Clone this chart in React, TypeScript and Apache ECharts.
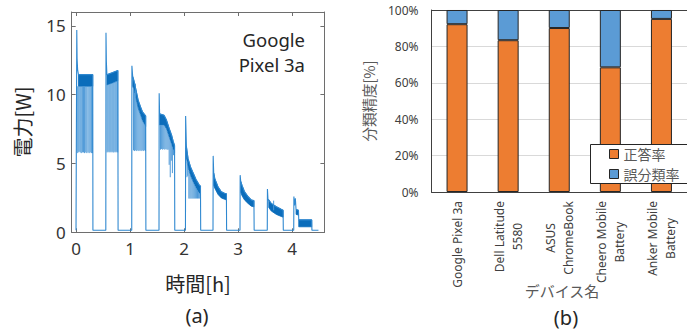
import React, { useEffect, useRef } from 'react';
import * as echarts from 'echarts';

// ---------- (a) power trace ----------
const TIME_TICKS = [0, 1, 2, 3, 4];
const POWER_TICKS = [0, 5, 10, 15];

// outline of the measured power [h, W]
const POWER_TRACE: number[][] = [
  [0, 0.15], [0.012, 0.15], [0.014, 14.7], [0.02, 12.6], [0.03, 11.8], [0.045, 11.45], [0.31, 11.45], [0.313, 0.15],
  [0.552, 0.15], [0.555, 14.5], [0.562, 12.4], [0.572, 11.45], [0.68, 11.6], [0.775, 11.75], [0.779, 0.15],
  [1.032, 0.15], [1.035, 12.1], [1.05, 11.3], [1.07, 11.05], [1.11, 10.35], [1.15, 9.6], [1.195, 9.1], [1.23, 8.75], [1.29, 8.45], [1.294, 0.15],
  [1.537, 0.15], [1.54, 10.1], [1.548, 8.6], [1.63, 8.5], [1.675, 8.15], [1.725, 7.55], [1.77, 7.05], [1.8, 6.6], [1.825, 6.3], [1.829, 0.15],
  [2.027, 0.15], [2.03, 8.45], [2.045, 6.2], [2.075, 5.35], [2.12, 4.75], [2.17, 4.3], [2.22, 3.85], [2.28, 3.45], [2.305, 3.35], [2.309, 0.15],
  [2.537, 0.15], [2.54, 5.55], [2.55, 4.3], [2.57, 3.9], [2.63, 3.3], [2.69, 2.95], [2.75, 2.83], [2.785, 2.8], [2.789, 0.15],
  [3.037, 0.15], [3.04, 4.15], [3.05, 3.7], [3.075, 3.4], [3.12, 2.95], [3.185, 2.6], [3.245, 2.35], [3.295, 2.3], [3.299, 0.15],
  [3.542, 0.15], [3.545, 3.15], [3.555, 2.4], [3.57, 2.35], [3.615, 2.1], [3.71, 1.86], [3.8, 1.67], [3.835, 1.6], [3.839, 0.15],
  [4.032, 0.15], [4.035, 2.6], [4.045, 1.95], [4.062, 2.47], [4.075, 1.65], [4.12, 1.6], [4.125, 0.9], [4.365, 0.9], [4.369, 0.15],
  [4.49, 0.15],
];

// dense oscillation bands per charging burst: [h, upper W, lower W]
const POWER_BANDS: number[][][] = [
  [[0.045, 11.45, 10.6], [0.31, 11.45, 10.6]],
  [[0.572, 11.45, 10.7], [0.68, 11.6, 10.85], [0.775, 11.75, 11.0]],
  [[1.05, 11.3, 10.6], [1.07, 11.05, 10.4], [1.11, 10.35, 9.7], [1.15, 9.6, 9.0], [1.195, 9.1, 8.5], [1.23, 8.75, 8.1], [1.29, 8.45, 7.7]],
  [[1.548, 8.6, 7.8], [1.63, 8.5, 7.8], [1.675, 8.15, 7.5], [1.725, 7.55, 6.9], [1.77, 7.05, 6.4], [1.8, 6.6, 6.0], [1.825, 6.3, 5.8]],
  [[2.045, 6.2, 5.4], [2.075, 5.35, 4.7], [2.12, 4.75, 4.1], [2.17, 4.3, 3.65], [2.22, 3.85, 3.25], [2.28, 3.45, 2.85], [2.305, 3.35, 2.8]],
  [[2.55, 4.3, 3.4], [2.57, 3.9, 3.2], [2.63, 3.3, 2.75], [2.69, 2.95, 2.5], [2.75, 2.83, 2.4], [2.785, 2.8, 2.35]],
  [[3.05, 3.7, 2.9], [3.075, 3.4, 2.65], [3.12, 2.95, 2.35], [3.185, 2.6, 2.1], [3.245, 2.35, 1.9], [3.295, 2.3, 1.85]],
  [[3.57, 2.35, 1.8], [3.615, 2.1, 1.55], [3.71, 1.86, 1.3], [3.8, 1.67, 1.15], [3.835, 1.6, 1.1]],
  [[4.075, 1.65, 1.3], [4.12, 1.6, 1.25]],
  [[4.125, 0.9, 0.4], [4.365, 0.9, 0.4]],
];

// short excursions of the trace: [h, from W, to W]
const POWER_SPIKES: number[][] = [
  [0.022, 10.6, 5.75], [0.04, 10.6, 5.8], [0.058, 10.6, 5.85], [0.078, 10.6, 5.8], [0.097, 10.6, 5.75],
  [0.118, 10.6, 5.8], [0.138, 10.6, 5.8], [0.158, 10.6, 5.75], [0.18, 10.6, 5.8], [0.2, 10.6, 5.75],
  [0.222, 10.6, 5.8], [0.243, 10.6, 5.75], [0.263, 10.6, 5.8], [0.285, 10.6, 5.75], [0.305, 10.6, 5.75],
  [0.575, 10.7, 5.8], [0.593, 10.72, 5.85], [0.612, 10.75, 5.8], [0.63, 10.78, 5.85], [0.648, 10.8, 5.8],
  [0.667, 10.83, 5.85], [0.685, 10.86, 5.8], [0.703, 10.9, 5.8], [0.722, 10.93, 5.85], [0.74, 10.96, 5.8],
  [0.758, 10.98, 5.85], [0.772, 11.0, 5.8],
  [1.065, 10.45, 5.95], [1.085, 10.1, 5.9], [1.1, 10.8, 9.8], [1.105, 9.8, 5.95], [1.125, 9.45, 5.9],
  [1.145, 9.1, 5.95], [1.165, 8.85, 5.9], [1.185, 8.6, 5.95], [1.205, 8.4, 5.9], [1.225, 8.15, 5.95],
  [1.245, 8.0, 5.9], [1.265, 7.85, 5.95], [1.285, 7.75, 5.9],
  [1.565, 7.8, 6.0], [1.585, 7.8, 6.05], [1.605, 7.8, 6.0], [1.625, 7.8, 6.05], [1.645, 7.7, 6.0],
  [1.665, 7.55, 6.05], [1.685, 7.35, 6.0], [1.705, 7.15, 6.0], [1.725, 6.9, 4.9], [1.745, 6.65, 4.0],
  [1.765, 6.45, 5.2], [1.785, 6.2, 4.3], [1.805, 6.0, 5.6],
  [2.055, 5.15, 4.0], [2.07, 4.8, 4.1], [2.09, 4.45, 2.45], [2.11, 4.2, 2.45], [2.13, 4.0, 2.45],
  [2.15, 3.85, 2.45], [2.17, 3.65, 2.45], [2.19, 3.5, 2.45], [2.21, 3.35, 2.45], [2.23, 3.2, 2.45],
  [2.25, 3.05, 2.45], [2.27, 2.9, 2.45], [2.29, 2.85, 2.45],
  [3.66, 2.3, 1.6],
];

// ---------- (b) classification accuracy ----------
const DEVICES = ['Google Pixel 3a', 'Dell Latitude\n5580', 'ASUS\nChromeBook', 'Cheero Mobile\nBattery', 'Anker Mobile\nBattery'];
const CORRECT_RATE = [92.2, 83.4, 90.1, 68.5, 95.1];
const ERROR_RATE = [7.8, 16.6, 9.9, 31.5, 4.9];
const SERIES_NAMES = ['正答率', '誤分類率'];

const FONT = '"Noto Sans", "Noto Sans CJK JP", sans-serif';
const JP_FONT = '"Noto Sans CJK JP", "Noto Sans", sans-serif';
const BOX = '#6e6e6e';

export default function App() {
  const ref = useRef<HTMLDivElement>(null);

  useEffect(() => {
    if (!ref.current) return;
    const chart = echarts.init(ref.current, null, { renderer: 'svg' });

    const boxAxisX = (position: string, labels: boolean) => ({
      type: 'value', gridIndex: 0, min: -0.08, max: 4.6, position,
      axisLine: { show: true, onZero: false, lineStyle: { color: BOX, width: 1 } },
      axisTick: { show: true, inside: true, length: 4, customValues: TIME_TICKS, lineStyle: { color: BOX } },
      axisLabel: { show: labels, customValues: TIME_TICKS, fontSize: 17, color: '#333', margin: 8, fontFamily: FONT },
      splitLine: { show: false },
    });
    const boxAxisY = (position: string, labels: boolean) => ({
      type: 'value', gridIndex: 0, min: 0, max: 16, position,
      axisLine: { show: true, onZero: false, lineStyle: { color: BOX, width: 1 } },
      axisTick: { show: true, inside: true, length: 4, customValues: POWER_TICKS, lineStyle: { color: BOX } },
      axisLabel: { show: labels, customValues: POWER_TICKS, fontSize: 17, color: '#333', margin: 6, fontFamily: FONT },
      splitLine: { show: false },
    });

    const option: any = {
      animation: false,
      backgroundColor: '#ffffff',
      grid: [
        { left: 71.7, top: 12, width: 252.7, height: 220.3 },
        { left: 431.5, top: 10, width: 263.5, height: 182 },
      ],
      xAxis: [
        boxAxisX('bottom', true),
        boxAxisX('top', false),
        {
          type: 'category', gridIndex: 1, data: DEVICES, position: 'bottom',
          axisLine: { show: true, lineStyle: { color: '#404040', width: 1 } },
          axisTick: { show: false },
          axisLabel: {
            rotate: 90, interval: 0, margin: 9,
            formatter: (v: string) => v.split('\n').map((s) => `{c|${s}}`).join('\n'),
            rich: { c: { align: 'center', fontSize: 12, lineHeight: 18, color: '#404040', fontFamily: FONT } },
          },
        },
        {
          type: 'category', gridIndex: 1, data: DEVICES, position: 'top',
          axisLine: { show: true, lineStyle: { color: '#404040', width: 1 } },
          axisTick: { show: false }, axisLabel: { show: false },
        },
      ],
      yAxis: [
        boxAxisY('left', true),
        boxAxisY('right', false),
        {
          type: 'value', gridIndex: 1, min: 0, max: 100, interval: 20,
          axisLine: { show: true, lineStyle: { color: '#404040', width: 1 } },
          axisTick: { show: false },
          axisLabel: { formatter: '{value}%', fontSize: 12, color: '#404040', margin: 13, fontFamily: FONT },
          splitLine: { show: true, lineStyle: { color: '#d9d9d9', width: 1 } },
        },
      ],
      legend: {
        data: SERIES_NAMES, orient: 'vertical', left: 590.5, top: 144.5,
        padding: [2.5, 70, 2.5, 18.5],
        backgroundColor: '#ffffff', borderColor: '#262626', borderWidth: 1, borderRadius: 0,
        itemWidth: 9, itemHeight: 9, itemGap: 6, icon: 'rect', selectedMode: false,
        itemStyle: { borderColor: '#262626', borderWidth: 1 },
        textStyle: { fontSize: 14, lineHeight: 14, color: '#595959', fontFamily: JP_FONT },
        z: 6,
      },
      graphic: [
        { type: 'text', x: 305, y: 39.5, style: { text: 'Google', fontSize: 18.5, fill: '#262626', align: 'right', verticalAlign: 'middle', fontFamily: FONT } },
        { type: 'text', x: 305, y: 64.5, style: { text: 'Pixel 3a', fontSize: 18.5, fill: '#262626', align: 'right', verticalAlign: 'middle', fontFamily: FONT } },
        { type: 'text', x: 22, y: 122, rotation: Math.PI / 2, style: { text: '電力[W]', fontSize: 20, fill: '#262626', align: 'center', verticalAlign: 'middle', fontFamily: JP_FONT } },
        { type: 'text', x: 198, y: 283, style: { text: '時間[h]', fontSize: 20, fill: '#262626', align: 'center', verticalAlign: 'middle', fontFamily: JP_FONT } },
        { type: 'text', x: 197, y: 315, style: { text: '(a)', fontSize: 20, fill: '#262626', align: 'center', verticalAlign: 'middle', fontFamily: FONT } },
        { type: 'text', x: 368, y: 101, rotation: Math.PI / 2, style: { text: '分類精度[%]', fontSize: 14.5, fill: '#595959', align: 'center', verticalAlign: 'middle', fontFamily: JP_FONT } },
        { type: 'text', x: 562, y: 290, style: { text: 'デバイス名', fontSize: 15, fill: '#595959', align: 'center', verticalAlign: 'middle', fontFamily: JP_FONT } },
        { type: 'text', x: 566, y: 317, style: { text: '(b)', fontSize: 20, fill: '#262626', align: 'center', verticalAlign: 'middle', fontFamily: FONT } },
      ],
      series: [
        {
          type: 'custom', name: 'band', xAxisIndex: 0, yAxisIndex: 0,
          data: POWER_BANDS.map((b) => [b[0][0], b[0][1]]),
          encode: { x: 0, y: 1 },
          renderItem: (params: any, api: any) => {
            const band = POWER_BANDS[params.dataIndex];
            const up = band.map((p) => api.coord([p[0], p[1]]));
            const lo = band.slice().reverse().map((p) => api.coord([p[0], p[2]]));
            return { type: 'polygon', shape: { points: up.concat(lo) }, style: { fill: '#0b6dbb', stroke: '#0b6dbb', lineWidth: 0.8 } };
          },
        },
        {
          type: 'custom', name: 'spikes', xAxisIndex: 0, yAxisIndex: 0,
          data: POWER_SPIKES,
          encode: { x: 0, y: [1, 2] },
          renderItem: (params: any, api: any) => {
            const a = api.coord([api.value(0), api.value(1)]);
            const b = api.coord([api.value(0), api.value(2)]);
            return { type: 'line', shape: { x1: a[0], y1: a[1], x2: b[0], y2: b[1] }, style: { stroke: '#4f9ad8', lineWidth: 1 } };
          },
        },
        {
          type: 'line', name: 'power', xAxisIndex: 0, yAxisIndex: 0,
          data: POWER_TRACE, showSymbol: false, symbol: 'none',
          lineStyle: { color: '#2f88d0', width: 1.1 },
        },
        {
          type: 'bar', name: SERIES_NAMES[0], xAxisIndex: 2, yAxisIndex: 2, stack: 'acc',
          data: CORRECT_RATE, barWidth: 21,
          itemStyle: { color: '#ED7D31', borderColor: '#262626', borderWidth: 1 },
        },
        {
          type: 'bar', name: SERIES_NAMES[1], xAxisIndex: 2, yAxisIndex: 2, stack: 'acc',
          data: ERROR_RATE, barWidth: 21,
          itemStyle: { color: '#5B9BD5', borderColor: '#262626', borderWidth: 1 },
        },
      ],
    };

    chart.setOption(option);
    return () => chart.dispose();
  }, []);

  return (
    <div style={{ position: 'fixed', left: 0, top: 0, width: 687, height: 333, overflow: 'hidden', background: '#fff' }}>
      <div ref={ref} style={{ width: 687, height: 333 }} />
    </div>
  );
}
